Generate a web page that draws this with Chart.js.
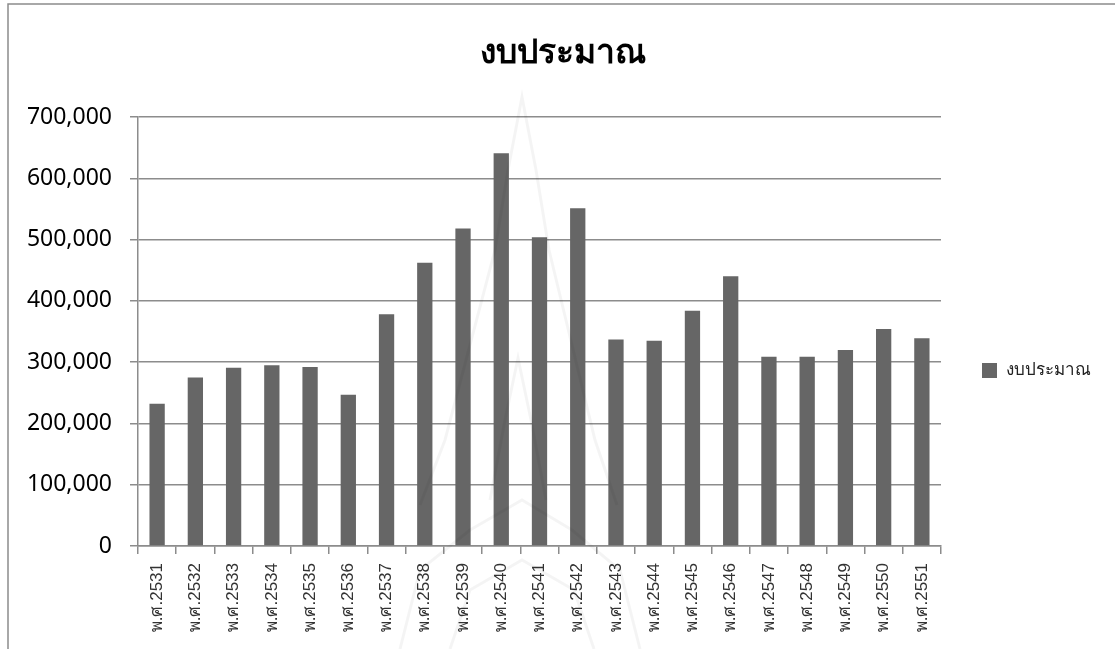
<!DOCTYPE html>
<html><head><meta charset="utf-8">
<style>html,body{margin:0;padding:0;background:#fff}#w{position:relative;width:1115px;height:649px}</style>
<script src="https://cdn.jsdelivr.net/npm/chart.js@4"></script></head>
<body><div id="w"><canvas id="c" width="1115" height="649"></canvas></div>
<script>
const titleText = "งบประมาณ";
const seriesName = "งบประมาณ";
const categories = ["พ.ศ.2531","พ.ศ.2532","พ.ศ.2533","พ.ศ.2534","พ.ศ.2535","พ.ศ.2536","พ.ศ.2537","พ.ศ.2538","พ.ศ.2539","พ.ศ.2540","พ.ศ.2541","พ.ศ.2542","พ.ศ.2543","พ.ศ.2544","พ.ศ.2545","พ.ศ.2546","พ.ศ.2547","พ.ศ.2548","พ.ศ.2549","พ.ศ.2550","พ.ศ.2551"];
const values = [232000,275000,291000,295000,292000,247000,378000,462000,518000,641000,504000,551000,337000,335000,384000,440000,309000,309000,320000,354000,339000];
const gridColor = "#8c8c8c";
function path(g,pts,w,c){g.strokeStyle=c;g.lineWidth=w;g.beginPath();pts.forEach((p,i)=>i?g.lineTo(p[0],p[1]):g.moveTo(p[0],p[1]));g.stroke();}
const frame = {
  id:"frame",
  beforeDraw(ch){
    const g=ch.ctx;
    g.save();
    path(g,[[8,649],[8,4],[1115,4]],1.5,"#8c8c8c");
    g.restore();
  }
};
const seal = {
  id:"seal",
  afterDatasetsDraw(ch){
    const g=ch.ctx;
    g.save();
    g.globalAlpha=.045;
    const c="#000";
    path(g,[[420,505],[445,440],[495,250],[508,170],[522,97],[536,170],[549,250],[595,440],[617,505]],3,c);
    path(g,[[490,500],[505,420],[518,358],[531,420],[546,500]],3,c);
    path(g,[[400,649],[420,570],[470,530],[522,500],[572,530],[620,570],[640,649]],3,c);
    path(g,[[450,649],[470,590],[522,560],[574,590],[594,649]],3,c);
    g.restore();
  }
};
const placeLegend = {
  id:"placeLegend",
  beforeLayout(ch){
    const lg=ch.legend;
    if(!lg._wrapped){
      const f=lg.fit;
      lg.fit=function(){f.call(this);this.width=159;};
      lg._wrapped=true;
    }
  },
  afterLayout(ch){
    const lg=ch.legend;
    lg.left=972;
    lg.top+=46; lg.bottom+=46;
  }
};
new Chart(document.getElementById("c"),{
  type:"bar",
  data:{labels:categories,datasets:[{label:seriesName,data:values,backgroundColor:"#666666",borderWidth:0,categoryPercentage:1,barPercentage:0.4}]},
  plugins:[frame,seal,placeLegend],
  options:{
    responsive:false,animation:false,
    layout:{padding:{left:26,top:0,right:15,bottom:0}},
    plugins:{
      title:{display:true,text:titleText,color:"#000",font:{family:"'Noto Sans','Liberation Sans',sans-serif",size:33.6,weight:"bold"},padding:{top:33,bottom:43.7}},
      legend:{position:"right",labels:{color:"#222",boxWidth:15,boxHeight:15,padding:10,font:{family:"'Liberation Sans','Noto Sans',sans-serif",size:17}}},
      tooltip:{enabled:false}
    },
    scales:{
      x:{afterFit(s){s.height=103;},grid:{drawOnChartArea:false,color:gridColor,tickLength:8,lineWidth:1.5},border:{color:gridColor,width:1.5},
         ticks:{color:"#333",font:{family:"'Liberation Sans',sans-serif",size:17},minRotation:90,maxRotation:90,autoSkip:false,padding:9}},
      y:{afterFit(s){s.width=112;},min:0,max:700000,grid:{color:gridColor,tickLength:8,lineWidth:1.5},border:{color:gridColor,width:1.5},
         ticks:{stepSize:100000,color:"#000",font:{family:"'Noto Sans',sans-serif",size:23},padding:18,callback:v=>v.toLocaleString("en-US")}}
    }
  }
});
</script></body></html>
